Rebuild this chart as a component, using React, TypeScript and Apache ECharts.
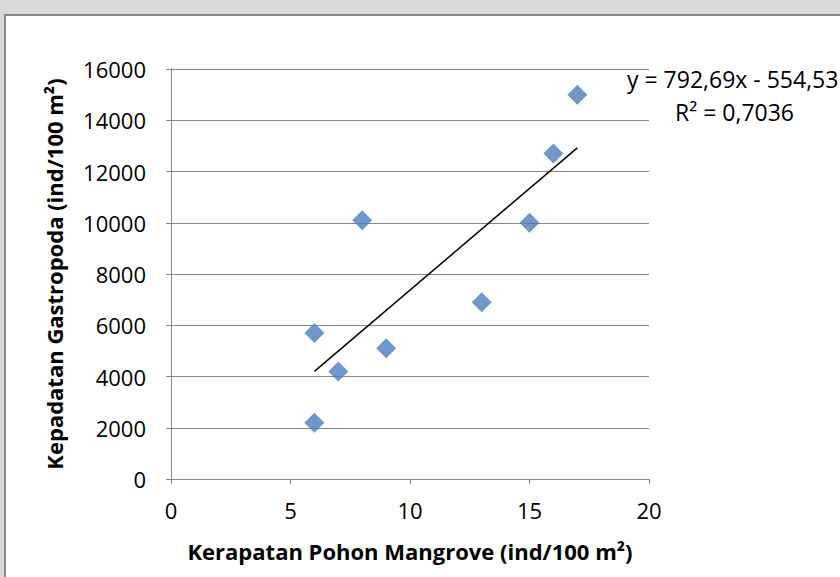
import React, { useEffect, useRef } from "react";
import * as echarts from "echarts";

const xTreeDensity = [6, 6, 7, 8, 9, 13, 15, 16, 17];
const yGastropod = [2200, 5700, 4200, 10100, 5100, 6900, 10000, 12700, 15000];
const trendSlope = 792.69;
const trendIntercept = -554.53;
const trendRange = [6, 17];
const equationText = "y = 792,69x - 554,53";
const r2Text = "R² = 0,7036";
const xTitle = "Kerapatan Pohon Mangrove (ind/100 m²)";
const yTitle = "Kepadatan Gastropoda (ind/100 m²)";

const FONT = "Open Sans";

export default function App() {
  const ref = useRef<HTMLDivElement>(null);
  useEffect(() => {
    if (!ref.current) return;
    const chart = echarts.init(ref.current, undefined, { renderer: "svg" });
    const scatter = xTreeDensity.map((x, i) => [x, yGastropod[i]]);
    const trend = trendRange.map((x) => [x, trendSlope * x + trendIntercept]);
    chart.setOption({
      animation: false,
      backgroundColor: "transparent",
      textStyle: { fontFamily: FONT },
      grid: { left: 171, right: 191, top: 69, bottom: 98 },
      xAxis: {
        type: "value",
        min: 0,
        max: 20,
        interval: 5,
        name: xTitle,
        nameLocation: "middle",
        nameGap: 61,
        nameTextStyle: { fontSize: 22, fontWeight: "bold", color: "#000", fontFamily: FONT },
        axisLine: { show: true, onZero: false, lineStyle: { color: "#888", width: 1 } },
        axisTick: { show: true, length: 5, lineStyle: { color: "#888" } },
        axisLabel: { fontSize: 22, color: "#000", margin: 20, fontFamily: FONT, formatter: (v: number) => String(v) },
        splitLine: { show: false },
      },
      yAxis: {
        type: "value",
        min: 0,
        max: 16000,
        interval: 2000,
        name: yTitle,
        nameLocation: "middle",
        nameRotate: 90,
        nameGap: 106,
        nameTextStyle: { fontSize: 22, fontWeight: "bold", color: "#000", fontFamily: FONT },
        axisLine: { show: true, lineStyle: { color: "#888", width: 1 } },
        axisTick: { show: true, length: 5, lineStyle: { color: "#888" } },
        axisLabel: { fontSize: 22, color: "#000", margin: 25, fontFamily: FONT, formatter: (v: number) => String(v) },
        splitLine: { show: true, lineStyle: { color: "#888", width: 1 } },
      },
      series: [
        {
          type: "line",
          data: trend,
          symbol: "none",
          lineStyle: { color: "#000", width: 1.5 },
          z: 2,
        },
        {
          type: "scatter",
          data: scatter,
          symbol: "diamond",
          symbolSize: 20,
          itemStyle: { color: "#4a7ebb" },
          z: 3,
        },
      ],
      graphic: [
        {
          type: "text",
          left: 627,
          top: 67,
          style: { text: equationText, fontSize: 23, fontFamily: FONT, fill: "#000" },
        },
        {
          type: "text",
          left: 675,
          top: 100,
          style: { text: r2Text, fontSize: 23, fontFamily: FONT, fill: "#000" },
        },
      ],
    });
    return () => chart.dispose();
  }, []);
  return (
    <div style={{ position: "fixed", left: 0, top: 0, width: 840, height: 577, background: "#d9d9d9", overflow: "hidden" }}>
      <div
        style={{
          position: "absolute",
          left: 4,
          top: 14,
          width: 900,
          height: 700,
          background: "#fff",
          border: "2px solid #8a8a8a",
          boxSizing: "border-box",
        }}
      />
      <div ref={ref} style={{ position: "absolute", left: 0, top: 0, width: 840, height: 577 }} />
    </div>
  );
}
